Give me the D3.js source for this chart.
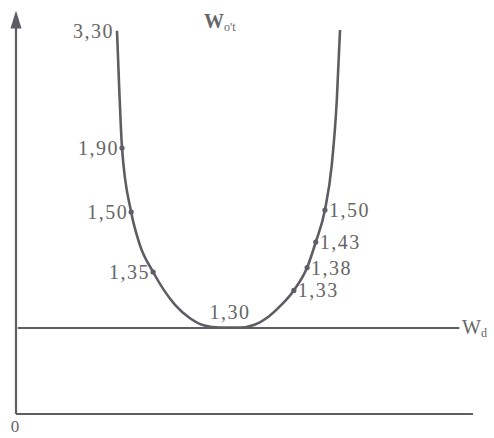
<!DOCTYPE html>
<html>
<head>
<meta charset="utf-8">
<script src="https://cdn.jsdelivr.net/npm/d3@7"></script>
<style>
html,body{margin:0;padding:0;background:#fff;}
svg{display:block;}
text{font-family:"Liberation Serif","DejaVu Serif",serif;fill:#666;}
</style>
</head>
<body>
<svg id="chart" width="494" height="438"></svg>
<script>
// Curve (abstract units, 0..100 on both axes)
const curveX = [22.1, 22.6, 23.2, 25.2, 27.1, 30.0, 34.8, 38.0, 41.0, 44.6, 49.0, 52.2, 55.1, 58.0, 60.8, 63.7, 65.6, 67.6, 69.1, 70.2, 70.9];
const curveY = [95.8, 81.0, 66.5, 50.5, 42.3, 35.5, 27.3, 24.0, 22.2, 21.6, 21.6, 22.3, 24.2, 27.2, 30.9, 36.6, 43.0, 51.0, 62.3, 78.5, 96.0];

// Labelled points
const labelText = ["3,30", "1,90", "1,50", "1,35", "1,30", "1,33", "1,38", "1,43", "1,50"];
const labelX    = [22.1, 23.2, 25.2, 30.0, 46.8, 60.8, 63.7, 65.6, 67.6];
const labelY    = [95.8, 66.5, 50.5, 35.5, 21.6, 30.9, 36.6, 43.0, 51.0];
const labelSide = ["left", "left", "left", "left", "top", "right", "right", "right", "right"];
const labelDot  = [false, true, true, true, false, true, true, true, true];

const wdLevel = 21.5;

const svg = d3.select("#chart");
const x = d3.scaleLinear().domain([0, 100]).range([16, 473]);
const y = d3.scaleLinear().domain([0, 100]).range([414, 14]);
const ink = "#5f5d63";

// axes
svg.append("line").attr("x1", x(0)).attr("x2", x(100)).attr("y1", y(0)).attr("y2", y(0))
  .attr("stroke", ink).attr("stroke-width", 2.2);
svg.append("line").attr("x1", x(0)).attr("x2", x(0)).attr("y1", y(0)).attr("y2", y(97))
  .attr("stroke", ink).attr("stroke-width", 2.2);
// arrow head
const ax = x(0), at = y(100.9);
svg.append("path").attr("d", `M${ax},${at} L${ax-5.5},${at+18} L${ax+5.5},${at+18} Z`).attr("fill", ink);

// Wd line
svg.append("line").attr("x1", x(0.4)).attr("x2", x(97)).attr("y1", y(wdLevel)).attr("y2", y(wdLevel))
  .attr("stroke", ink).attr("stroke-width", 2.2);

// curve
const pts = curveX.map((d, i) => [d, curveY[i]]);
svg.append("path").datum(pts)
  .attr("d", d3.line().x(d => x(d[0])).y(d => y(d[1])).curve(d3.curveMonotoneX))
  .attr("fill", "none").attr("stroke", ink).attr("stroke-width", 2.6);

// dots and labels
labelText.forEach((t, i) => {
  const px = x(labelX[i]), py = y(labelY[i]);
  if (labelDot[i]) svg.append("circle").attr("cx", px).attr("cy", py).attr("r", 2.6).attr("fill", ink);
  const side = labelSide[i];
  const tx = side === "left" ? px - 3 : side === "right" ? px + 4 : px;
  const ty = side === "top" ? py - 9 : py + 7;
  svg.append("text").attr("x", tx).attr("y", ty)
    .attr("text-anchor", side === "left" ? "end" : side === "right" ? "start" : "middle")
    .attr("font-size", 20).attr("letter-spacing", 1.5).text(t);
});

// titles
const wo = svg.append("text").attr("x", 204).attr("y", 28).attr("font-size", 20).attr("font-weight", "bold");
wo.append("tspan").text("W");
wo.append("tspan").attr("font-size", 12).attr("dy", 3).attr("font-weight", "normal").text("o't");

const wd = svg.append("text").attr("x", 462).attr("y", y(wdLevel) + 6).attr("font-size", 20);
wd.append("tspan").text("W");
wd.append("tspan").attr("font-size", 12).attr("dy", 3).text("d");

svg.append("text").attr("x", x(0) - 1).attr("y", 432).attr("text-anchor", "middle")
  .attr("font-size", 17).text("0");
</script>
</body>
</html>
